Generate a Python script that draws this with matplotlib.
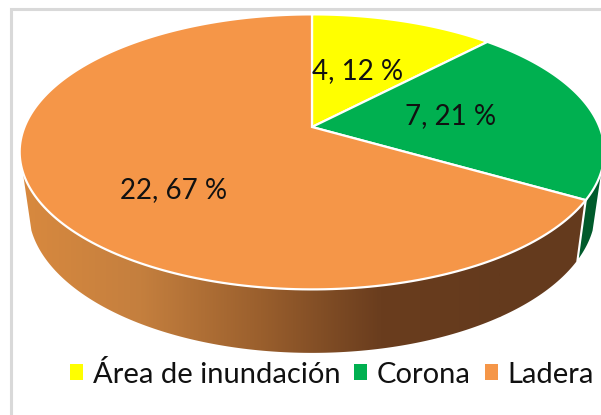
import numpy as np
import matplotlib
matplotlib.use('Agg')
import matplotlib.pyplot as plt
from matplotlib.colors import LinearSegmentedColormap
from matplotlib.patches import Patch, Polygon, Rectangle

categories = ['Área de inundación', 'Corona', 'Ladera']
values = [4, 7, 22]
percents = [12, 21, 67]
colors = ['#FFFF00', '#00B050', '#F59648']
corona_side = '#005A2B'

plt.rcParams['font.family'] = ['Lato', 'DejaVu Sans']

# pie seen in perspective, apex is not the middle of the ellipse
cx, cy = 312, 127
sx, sy = 287.5, 133
k = 0.181
depth = 57
shrink_x = 0.97
shrink_y = 1.04


def rim(theta, scale_x=1.0, scale_y=1.0, dy=0):
    u = np.sin(theta)
    v = np.cos(theta)
    w = 1 + k * v
    return cx + scale_x * sx * u / w, cy - scale_y * sy * v / w + dy


def wall(t0, t1):
    t = np.linspace(t0, t1, 150)
    x1, y1 = rim(t)
    x2, y2 = rim(t[::-1], shrink_x, shrink_y, depth)
    return np.column_stack([np.r_[x1, x2], np.r_[y1, y2]])


fig = plt.figure(figsize=(6.01, 4.15), dpi=100)
ax = fig.add_axes([0, 0, 1, 1])
ax.axis('off')

cum = np.cumsum([0] + values) / sum(values) * 2 * np.pi

# side of the Ladera slice
brown = LinearSegmentedColormap.from_list('side', ['#D8893F', '#C47F3E', '#9A5F2D', '#6A3D1E', '#643A1D'])
grad = ax.imshow(np.linspace(0, 1, 256).reshape(1, -1), cmap=brown, extent=(22, 500, 415, 0), aspect='auto', zorder=1)
grad2 = ax.add_patch(Rectangle((500, 0), 101, 415, color='#643A1D', zorder=1))
poly = Polygon(wall(cum[2] + 0.012, np.radians(251.5)), transform=ax.transData, fc='none', ec='none')
ax.add_patch(poly)
grad.set_clip_path(poly)
grad2.set_clip_path(poly)

# side of the Corona slice
ax.add_patch(Polygon(wall(np.radians(108.5), cum[2] - 0.012), fc=corona_side, ec='none', zorder=1))

# top face
for i in range(len(values)):
    t = np.linspace(cum[i], cum[i + 1], 200)
    x, y = rim(t)
    ax.fill(np.r_[cx, x], np.r_[cy, y], fc=colors[i], ec='white', lw=1.6, zorder=2)

# chart frame
ax.plot([10.5, 10.5, 601], [415, 9.5, 9.5], color='#D9D9D9', lw=2.2, zorder=0, solid_joinstyle='miter')

label_pos = [(358, 71), (451, 116), (174, 190)]
for (lx, ly), val, pct in zip(label_pos, values, percents):
    ax.text(lx, ly, f'{val}, {pct} %', ha='center', va='center', fontsize=20, color='#111111', zorder=3)

handles = [Patch(fc=c, ec='none') for c in colors]
leg = ax.legend(handles, categories, loc='center', bbox_to_anchor=(332, 374), bbox_transform=ax.transData,
                ncol=3, frameon=False, fontsize=21, handlelength=0.44, handleheight=0.44,
                handletextpad=0.34, columnspacing=0.48, labelcolor='#111111', borderpad=0, borderaxespad=0)

ax.set_xlim(0, 601)
ax.set_ylim(415, 0)
fig.savefig('out.png', dpi=100)
